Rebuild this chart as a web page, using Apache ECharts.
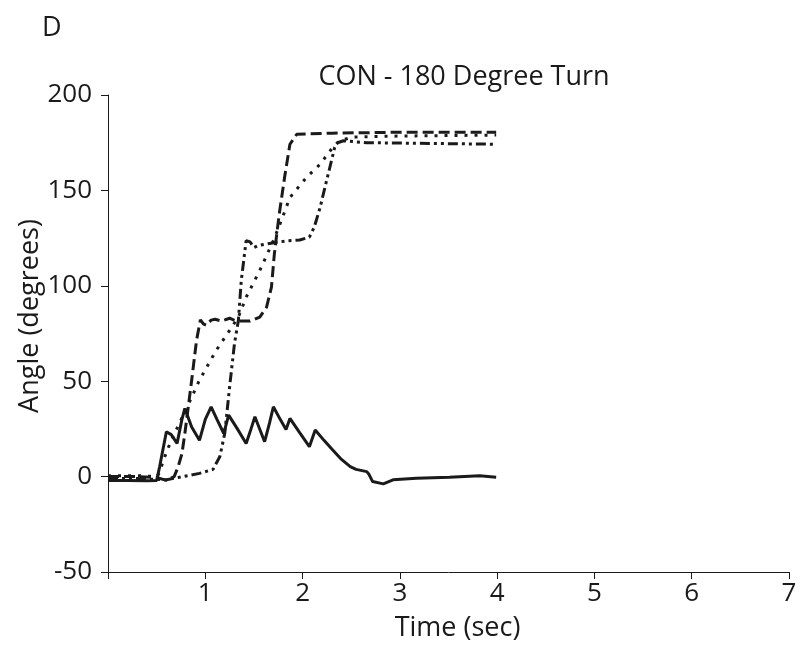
<!DOCTYPE html>
<html>
<head>
<meta charset="utf-8">
<script src="https://cdn.jsdelivr.net/npm/echarts@6/dist/echarts.min.js"></script>
<style>
  html, body { margin: 0; padding: 0; background: #fff; }
  #chart { width: 803px; height: 651px; }
</style>
</head>
<body>
<div id="chart"></div>
<script>
// time (sec) / angle (degrees)
const solidT = [0, 0.2, 0.4, 0.5, 0.53, 0.6, 0.65, 0.71, 0.76, 0.79, 0.86, 0.94, 1.0, 1.06, 1.12, 1.19, 1.24, 1.33, 1.42, 1.47, 1.51, 1.61, 1.66, 1.70, 1.77, 1.83, 1.87, 1.97, 2.07, 2.13, 2.22, 2.31, 2.40, 2.49, 2.55, 2.66, 2.68, 2.72, 2.83, 2.93, 3.17, 3.51, 3.82, 3.99];
const solidY = [-2, -2, -2.2, -2, 5, 23.5, 22, 17.4, 30, 35.7, 26, 19, 30, 36.6, 30, 22.6, 32.2, 25, 17.4, 25, 31.4, 18.3, 28, 36.6, 30, 24.7, 30.5, 23, 15.7, 24.4, 19, 13.9, 9, 5.2, 3.8, 2.6, 1.4, -2.6, -3.8, -1.7, -0.9, -0.3, 0.5, -0.3];

const dashT = [0, 0.3, 0.5, 0.6, 0.68, 0.72, 0.76, 0.79, 0.86, 0.91, 0.95, 0.98, 1.01, 1.06, 1.1, 1.17, 1.25, 1.32, 1.46, 1.56, 1.63, 1.68, 1.71, 1.76, 1.82, 1.87, 1.94, 2.31, 3.0, 3.99];
const dashY = [0, 0, -0.5, -2, 0, 5, 12, 22.6, 50.5, 71.4, 82.2, 80, 79.3, 82, 82.5, 81.5, 83, 81.5, 81.5, 83.6, 88.8, 99.3, 116.7, 137.6, 158.5, 174.2, 179.4, 180, 180.5, 180.5];

const dotT = [0, 0.3, 0.5, 0.53, 0.57, 0.65, 0.8, 0.94, 1.11, 1.25, 1.34, 1.42, 1.56, 1.70, 1.78, 1.87, 2.04, 2.18, 2.31, 2.38, 2.52, 3.0, 3.99];
const dotY = [0.5, 0.5, 0, 2, 8.7, 19, 35, 50.5, 66, 76.6, 83.6, 94, 108, 123.7, 134, 146.3, 156.8, 163.7, 172.5, 176, 178, 178.5, 179];

const dashDotT = [0, 0.3, 0.5, 0.6, 0.77, 0.94, 1.08, 1.15, 1.2, 1.25, 1.30, 1.34, 1.37, 1.42, 1.46, 1.50, 1.54, 1.63, 1.83, 1.97, 2.07, 2.12, 2.18, 2.23, 2.28, 2.33, 2.36, 2.42, 2.66, 3.99];
const dashDotY = [-1, -1, -1.5, -1.7, 0, 1.7, 3.8, 10.5, 22.6, 47, 69.7, 81.8, 102.8, 123.7, 123, 120, 121, 122, 123.5, 124, 125.5, 130.7, 141, 151.6, 162, 172.5, 175, 176, 175, 174.2];

const xTicks = [0, 1, 2, 3, 4, 5, 6, 7];
const yTicks = [-50, 0, 50, 100, 150, 200];

const ink = '#1a1a1a';
const font = 'Open Sans';

const pairs = (t, y) => t.map((v, i) => [v, y[i]]);

const lineSeries = (t, y, dash) => ({
  type: 'line',
  data: pairs(t, y),
  showSymbol: false,
  silent: true,
  lineStyle: { color: ink, width: 3, type: dash }
});

const chart = echarts.init(document.getElementById('chart'));
chart.setOption({
  animation: false,
  backgroundColor: '#fff',
  title: {
    text: 'CON - 180 Degree Turn',
    left: 459,
    top: 59,
    textAlign: 'center',
    textStyle: { fontFamily: font, fontSize: 27, fontWeight: 'normal', color: ink }
  },
  graphic: [
    {
      type: 'text', left: 42, top: 15,
      style: { text: 'D', fontFamily: font, fontSize: 27, fill: ink }
    },
    {
      type: 'text', x: 30, y: 316, rotation: Math.PI / 2,
      style: { text: 'Angle (degrees)', fontFamily: font, fontSize: 27, fill: ink, align: 'center', verticalAlign: 'middle' }
    }
  ],
  grid: { left: 108, top: 95, right: 14, bottom: 79 },
  xAxis: {
    type: 'value',
    min: xTicks[0],
    max: xTicks[xTicks.length - 1],
    interval: 1,
    name: 'Time (sec)',
    nameLocation: 'middle',
    nameGap: 43,
    nameTextStyle: { fontFamily: font, fontSize: 27, color: ink, padding: [0, 0, 0, 18] },
    axisLine: { onZero: false, lineStyle: { color: ink, width: 1 } },
    axisTick: { inside: false, length: 7, lineStyle: { color: ink } },
    axisLabel: {
      margin: 9, fontFamily: font, fontSize: 26, color: ink,
      formatter: v => (v === 0 ? '' : String(v))
    },
    splitLine: { show: false }
  },
  yAxis: {
    type: 'value',
    min: yTicks[0],
    max: yTicks[yTicks.length - 1],
    interval: 50,
    axisLine: { show: true, onZero: false, lineStyle: { color: ink, width: 1 } },
    axisTick: { show: true, inside: false, length: 7, lineStyle: { color: ink } },
    axisLabel: { margin: 16, fontFamily: font, fontSize: 26, color: ink },
    splitLine: { show: false }
  },
  series: [
    lineSeries(solidT, solidY, 'solid'),
    lineSeries(dashT, dashY, [11, 5]),
    lineSeries(dotT, dotY, [3, 7]),
    lineSeries(dashDotT, dashDotY, [10, 4, 3, 4, 3, 4])
  ]
});
</script>
</body>
</html>
